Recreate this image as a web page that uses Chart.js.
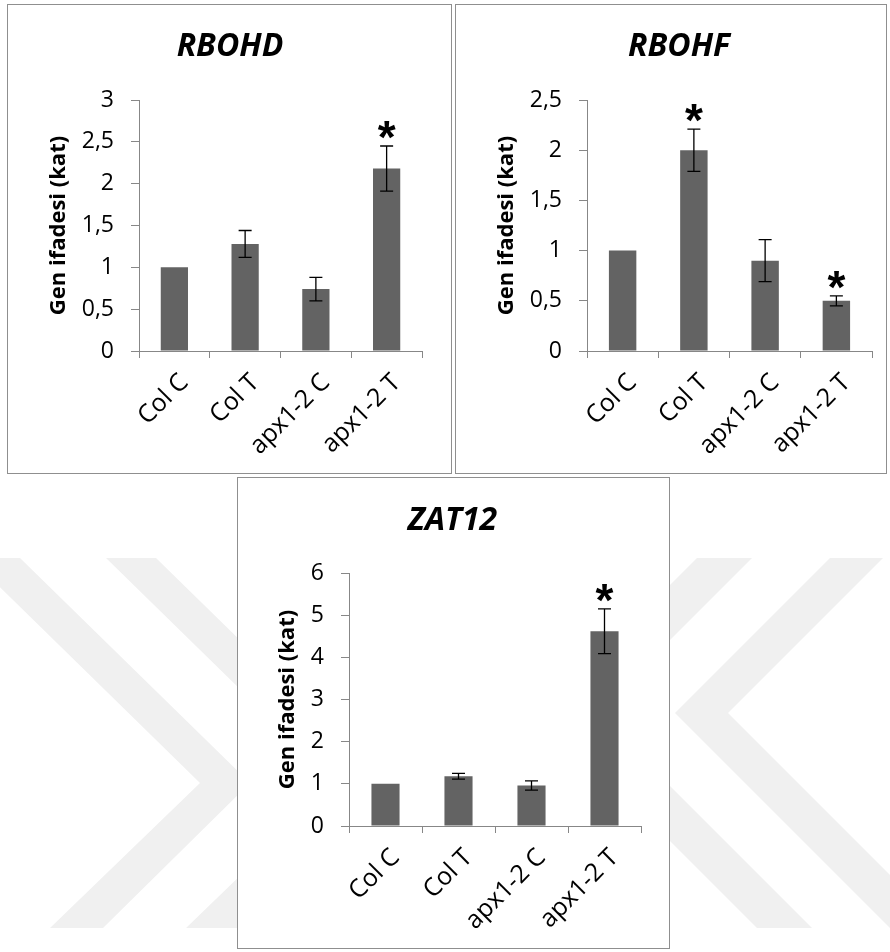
<!DOCTYPE html>
<html lang="tr">
<head>
  <meta charset="UTF-8" />
  <title>Gen ifadesi - RBOHD, RBOHF, ZAT12</title>
  <script src="https://cdn.jsdelivr.net/npm/chart.js@4.4.1/dist/chart.umd.min.js"></script>
  <style>
    html, body { margin: 0; padding: 0; background: #fff; }
    body { width: 890px; height: 952px; position: relative; overflow: hidden; }
    #filigran { position: absolute; left: 0; top: 0; }
    .panel { position: absolute; background: #fff; border: 1px solid #8f8f8f; }
    .panel canvas { display: block; }
    #p1 { left: 7px; top: 4px; width: 443px; height: 468px; }
    #p2 { left: 455px; top: 4px; width: 430px; height: 468px; }
    #p3 { left: 237px; top: 477px; width: 431px; height: 470px; }
  </style>
</head>
<body>
  <canvas id="filigran" width="890" height="952"></canvas>

  <div class="panel" id="p1"><canvas id="c1" width="443" height="468"></canvas></div>
  <div class="panel" id="p2"><canvas id="c2" width="430" height="468"></canvas></div>
  <div class="panel" id="p3"><canvas id="c3" width="431" height="470"></canvas></div>

  <script>
    // Veriler
    const categories = ['Col C', 'Col T', 'apx1-2 C', 'apx1-2 T'];

    const rbohdValues = [1, 1.28, 0.74, 2.18];
    const rbohdErrors = [0, 0.16, 0.14, 0.27];
    const rbohdStars  = [false, false, false, true];
    const rbohdTicks  = [0, 0.5, 1, 1.5, 2, 2.5, 3];

    const rbohfValues = [1, 2.0, 0.9, 0.5];
    const rbohfErrors = [0, 0.21, 0.21, 0.05];
    const rbohfStars  = [false, true, false, true];
    const rbohfTicks  = [0, 0.5, 1, 1.5, 2, 2.5];

    const zat12Values = [1, 1.18, 0.96, 4.62];
    const zat12Errors = [0, 0.07, 0.11, 0.53];
    const zat12Stars  = [false, false, false, true];
    const zat12Ticks  = [0, 1, 2, 3, 4, 5, 6];

    const yAxisTitle = 'Gen ifadesi (kat)';
    const barColor = '#636363';
    const axisColor = '#878787';

    Chart.defaults.font.family = "'Open Sans', sans-serif";

    // Arka plan filigranı
    const wm = document.getElementById('filigran').getContext('2d');
    wm.fillStyle = '#f0f0f0';
    [
      [[-30, 558], [20, 558], [250, 783], [103, 928], [50, 928], [200, 783]],
      [[106, 558], [156, 558], [386, 783], [239, 928], [186, 928], [336, 783]],
      [[697, 558], [752, 558], [597, 713], [812, 928], [757, 928], [542, 713]],
      [[830, 558], [883, 558], [728, 713], [943, 928], [890, 928], [675, 713]]
    ].forEach(pts => {
      wm.beginPath();
      pts.forEach(([x, y], i) => i ? wm.lineTo(x, y) : wm.moveTo(x, y));
      wm.closePath();
      wm.fill();
    });

    function drawStar(ctx, cx, cy) {
      ctx.save();
      ctx.font = 'bold 46px "Liberation Sans"';
      ctx.textAlign = 'left';
      ctx.textBaseline = 'alphabetic';
      const m = ctx.measureText('*');
      const x = cx - (m.actualBoundingBoxRight - m.actualBoundingBoxLeft) / 2;
      const y = cy + (m.actualBoundingBoxAscent - m.actualBoundingBoxDescent) / 2;
      ctx.fillStyle = '#000';
      ctx.fillText('*', x, y);
      ctx.restore();
    }

    // Hata çubukları + yıldızlar
    function makeErrorBars(values, errors, stars) {
      return {
        id: 'errorBars',
        afterDatasetsDraw(chart) {
          const ctx = chart.ctx;
          const yScale = chart.scales.y;
          const meta = chart.getDatasetMeta(0);
          ctx.save();
          ctx.strokeStyle = '#000';
          ctx.lineWidth = 1.3;
          meta.data.forEach((bar, i) => {
            const top = yScale.getPixelForValue(values[i] + errors[i]);
            if (errors[i] > 0) {
              const bot = yScale.getPixelForValue(values[i] - errors[i]);
              ctx.beginPath();
              ctx.moveTo(bar.x, top); ctx.lineTo(bar.x, bot);
              ctx.moveTo(bar.x - 6.5, top); ctx.lineTo(bar.x + 6.5, top);
              ctx.moveTo(bar.x - 6.5, bot); ctx.lineTo(bar.x + 6.5, bot);
              ctx.stroke();
            }
            if (stars[i]) drawStar(ctx, bar.x, top - 16);
          });
          ctx.restore();
        }
      };
    }

    function makeChart(id, title, values, errors, stars, ticks, lay) {
      return new Chart(document.getElementById(id), {
        type: 'bar',
        data: {
          labels: categories,
          datasets: [{
            data: values,
            backgroundColor: barColor,
            borderWidth: 0,
            categoryPercentage: 1,
            barPercentage: 0.385
          }]
        },
        options: {
          responsive: false,
          animation: false,
          events: [],
          layout: { padding: { left: lay.pl, right: lay.pr, top: 0, bottom: 0 } },
          plugins: {
            legend: { display: false },
            tooltip: { enabled: false },
            title: {
              display: true,
              text: title,
              color: '#000',
              font: { size: 32, weight: 'bold', style: 'italic' },
              padding: { top: lay.tt, bottom: 95 - lay.tt - 38.4 }
            }
          },
          scales: {
            x: {
              grid: { offset: true, drawOnChartArea: false, tickLength: 7, color: axisColor },
              border: { color: axisColor },
              ticks: {
                color: '#000',
                font: { size: 25 },
                maxRotation: 45,
                minRotation: 45,
                autoSkip: false,
                padding: 10,
                labelOffset: 10
              },
              afterFit: s => { s.height = lay.xh; }
            },
            y: {
              min: ticks[0],
              max: ticks[ticks.length - 1],
              afterBuildTicks: s => { s.ticks = ticks.map(v => ({ value: v })); },
              grid: { drawOnChartArea: false, tickLength: 8, color: axisColor },
              border: { color: axisColor },
              ticks: {
                color: '#000',
                font: { size: 23 },
                padding: 17,
                callback: v => String(v).replace('.', ',')
              },
              title: {
                display: true,
                text: yAxisTitle,
                color: '#000',
                font: { size: 22, weight: 'bold' },
                padding: { top: lay.yt, bottom: 0 }
              },
              afterFit: s => { s.width = lay.yw; }
            }
          }
        },
        plugins: [makeErrorBars(values, errors, stars)]
      });
    }

    makeChart('c1', 'RBOHD', rbohdValues, rbohdErrors, rbohdStars, rbohdTicks,
      { pl: 30, pr: 29, tt: 23, yt: 8, yw: 101, xh: 122 });
    makeChart('c2', 'RBOHF', rbohfValues, rbohfErrors, rbohfStars, rbohfTicks,
      { pl: 30, pr: 14, tt: 23, yt: 8, yw: 101, xh: 122 });
    makeChart('c3', 'ZAT12', zat12Values, zat12Errors, zat12Stars, zat12Ticks,
      { pl: 26, pr: 28, tt: 24, yt: 11, yw: 85, xh: 122 });
  </script>
</body>
</html>
